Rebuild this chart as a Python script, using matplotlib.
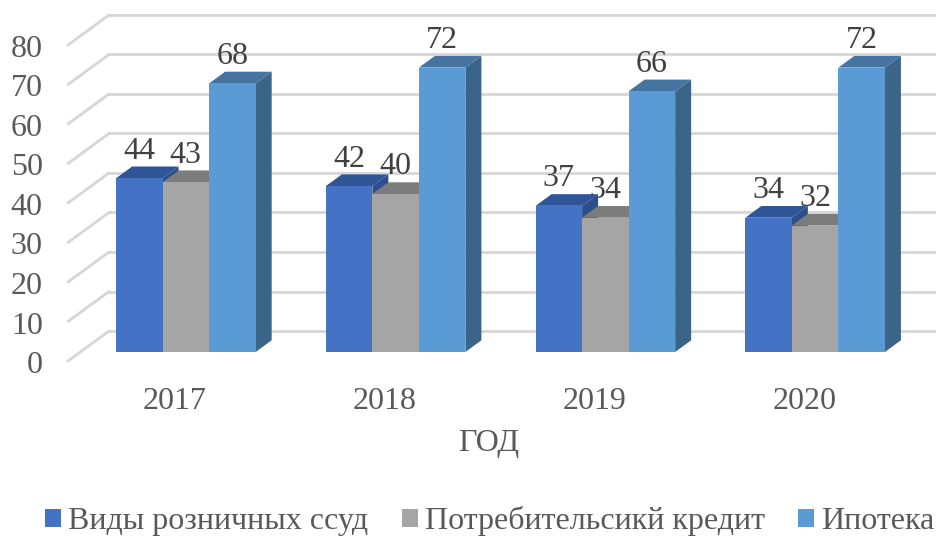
import matplotlib
matplotlib.use("Agg")
import matplotlib.pyplot as plt
from matplotlib.patches import Polygon, Patch
from matplotlib.transforms import Affine2D

years = ["2017", "2018", "2019", "2020"]
series_names = ["Виды розничных ссуд", "Потребительсикй кредит", "Ипотека"]
retail_loans = [44, 42, 37, 34]
consumer_credit = [43, 40, 34, 32]
mortgage = [68, 72, 66, 72]
y_ticks = [0, 10, 20, 30, 40, 50, 60, 70, 80]

front_colors = ["#4472C4", "#A5A5A5", "#5B9BD5"]
top_colors = ["#2F5597", "#7C7C7C", "#44749F"]
side_colors = ["#2B4F8C", "#6E6E6E", "#3A6488"]

plt.rcParams["font.family"] = ["Liberation Serif", "DejaVu Serif"]
FS = 23
W, H = 936, 537
fig = plt.figure(figsize=(W / 100, H / 100), dpi=100)
ax = fig.add_axes([81 / W, (H - 352) / H, 839 / W, 316 / H])
ax.set_xlim(-0.5, 3.5)
ax.set_ylim(0, 80)
ax.patch.set_visible(False)
for s in ax.spines.values():
    s.set_visible(False)

def shifted(dx, dy):
    return ax.transData + Affine2D().translate(dx, dy)

BACK = (28, 21)
FRONT = (-13, -9)
DEPTH = (16, 11.7)
back_tr = shifted(*BACK)
grid_color = "#D6D6D6"
x0, x1 = ax.get_xlim()
for v in y_ticks:
    ax.plot([x0, x1 + 0.1], [v, v], transform=back_tr, color=grid_color, lw=2.0, clip_on=False, zorder=1)
    p = ax.transData.transform([(x0, v)])[0]
    ax.annotate("", xy=(p[0] + BACK[0], p[1] + BACK[1]), xycoords="figure pixels",
                xytext=(p[0] + FRONT[0], p[1] + FRONT[1]), textcoords="figure pixels",
                arrowprops=dict(arrowstyle="-", color=grid_color, lw=2.0, shrinkA=0, shrinkB=0), zorder=1)

w = 0.2218
to_disp = ax.transData.transform
inv = fig.transFigure.inverted()
z = 3
for i, year in enumerate(years):
    for j, vals in enumerate([retail_loans, consumer_credit, mortgage]):
        v = vals[i]
        left = i + (j - 1.5) * w
        right = left + w
        (lx, by), (rx, ty) = to_disp([(left, 0), (right, v)])
        dx, dy = DEPTH
        front = [(lx, by), (rx, by), (rx, ty), (lx, ty)]
        top = [(lx, ty), (rx, ty), (rx + dx, ty + dy), (lx + dx, ty + dy)]
        side = [(rx, by), (rx + dx, by + dy), (rx + dx, ty + dy), (rx, ty)]
        for pts, col in [(side, side_colors[j]), (top, top_colors[j]), (front, front_colors[j])]:
            fig.add_artist(Polygon(inv.transform(pts), closed=True, transform=fig.transFigure,
                                   facecolor=col, edgecolor="none", zorder=z))
            z += 1
        ax.annotate(str(v), xy=((left + right) / 2, v), xytext=(0, 27 * 0.72),
                    textcoords="offset points", ha="center", va="center",
                    fontsize=FS, color="#404040", zorder=50, annotation_clip=False)

ax.set_xticks(range(4), years)
ax.set_yticks(y_ticks, [str(t) for t in y_ticks])
ax.tick_params(axis="y", length=0, pad=27.5, labelsize=FS, labelcolor="#595959")
ax.tick_params(axis="x", length=0, pad=25, labelsize=FS, labelcolor="#595959")
for t in ax.get_yticklabels():
    t.set_transform(t.get_transform() + Affine2D().translate(0, -10))
for t in ax.get_xticklabels():
    t.set_transform(t.get_transform() + Affine2D().translate(-11, 0))

ax.set_xlabel("ГОД", fontsize=FS, color="#595959")
ax.xaxis.set_label_coords((489 - 81) / 839, -(444 - 352) / 316, transform=ax.transAxes)
ax.xaxis.label.set_va("center")

handles = [Patch(facecolor=c, edgecolor="none") for c in front_colors]
fig.legend(handles, series_names, ncol=3, loc="lower left",
           bbox_to_anchor=(45 / W, 1 / H), frameon=False,
           fontsize=FS, labelcolor="#595959", borderpad=0, borderaxespad=0,
           handlelength=0.5, handleheight=0.5, handletextpad=0.22, columnspacing=1.05)

fig.savefig("out.png", dpi=100)
